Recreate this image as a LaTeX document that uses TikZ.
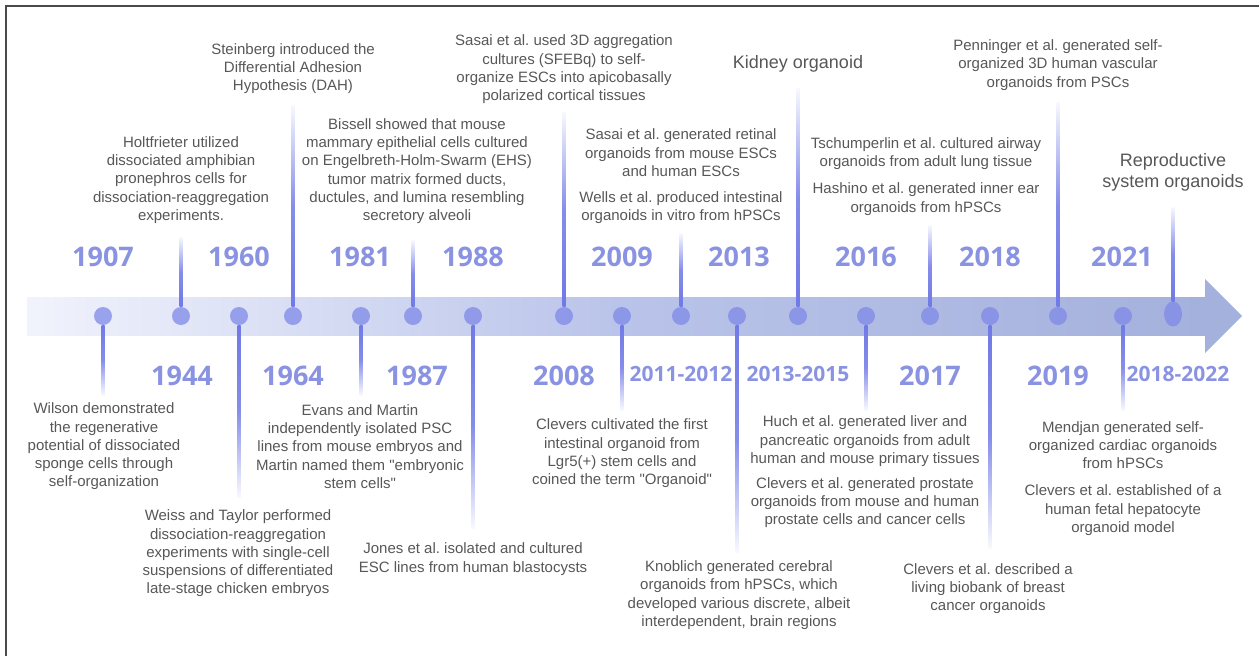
\documentclass[tikz,border=0pt]{standalone}
\usepackage{fontspec}
\setmainfont{Liberation Sans}
\newfontfamily\yearfont{Open Sans}
\usepackage{xcolor}
\usetikzlibrary{shapes.geometric}
\definecolor{txtc}{HTML}{575757}
\definecolor{yearc}{HTML}{8A93E2}
\definecolor{dotc}{HTML}{7F89E8}
\definecolor{stemc}{HTML}{7079E6}
\definecolor{bandl}{HTML}{F1F3FC}
\definecolor{bandm}{HTML}{BAC4EA}
\definecolor{bandr}{HTML}{A4B1DC}
\definecolor{framec}{HTML}{4A4A4A}
\frenchspacing
\begin{document}
\begin{tikzpicture}[x=1pt,y=-1pt,
    evt/.style={align=center,text=txtc,inner sep=0pt,font=\fontsize{15}{18.3}\selectfont},
    big/.style={align=center,text=txtc,inner sep=0pt,font=\fontsize{18}{21}\selectfont},
    yr/.style={text=yearc,inner sep=0pt,font=\yearfont\bfseries\fontsize{27}{30}\selectfont},
    yrs/.style={text=yearc,inner sep=0pt,font=\yearfont\bfseries\fontsize{21}{24}\selectfont},
    pt/.style={circle,fill=dotc,fill opacity=0.75,minimum size=18pt,inner sep=0pt},
    upstem/.style={top color=stemc!5,bottom color=stemc,middle color=stemc!85},
    dnstem/.style={top color=stemc,bottom color=stemc!5,middle color=stemc!85}]
    \useasboundingbox (0,0) rectangle (1259,656);
    \draw[framec,line width=2pt] (6,656) -- (6,6) -- (1259,6);
    %%
    \shade[left color=bandl,right color=bandr,middle color=bandm] (27,297) rectangle (1205,335);
    \fill[bandr] (1205,279) -- (1242,316) -- (1205,353) -- cycle;
    %%
      \node[pt] (d1) at (103,316) {};
      \node[pt] (d2) at (181,316) {};
      \node[pt] (d3) at (239,316) {};
      \node[pt] (d4) at (293,316) {};
      \node[pt] (d5) at (361,316) {};
      \node[pt] (d6) at (413,316) {};
      \node[pt] (d7) at (473,316) {};
      \node[pt] (d8) at (564,316) {};
      \node[pt] (d9) at (622,316) {};
      \node[pt] (d10) at (681,316) {};
      \node[pt] (d11) at (737,316) {};
      \node[pt] (d12) at (798,316) {};
      \node[pt] (d13) at (866,316) {};
      \node[pt] (d14) at (930,316) {};
      \node[pt] (d15) at (990,316) {};
      \node[pt] (d16) at (1058,316) {};
      \node[pt] (d17) at (1123,316) {};
      \node[pt,ellipse,minimum width=18pt,minimum height=25pt] (d18) at (1173,314) {};
    %%
      \coordinate (e1) at (103,395);
      \coordinate (e2) at (181,237);
      \coordinate (e3) at (239,497);
      \coordinate (e4) at (293,105);
      \coordinate (e5) at (361,395);
      \coordinate (e6) at (413,240);
      \coordinate (e7) at (473,528);
      \coordinate (e8) at (564,112);
      \coordinate (e9) at (622,410);
      \coordinate (e10) at (681,233);
      \coordinate (e11) at (737,552);
      \coordinate (e12) at (798,88);
      \coordinate (e13) at (866,410);
      \coordinate (e14) at (930,225);
      \coordinate (e15) at (990,548);
      \coordinate (e16) at (1058,102);
      \coordinate (e17) at (1123,410);
      \coordinate (e18) at (1173,207);
      \shade[dnstem] ([xshift=-1.5pt]d1.south) rectangle ([xshift=1.5pt]e1);
      \shade[upstem] ([xshift=-1.5pt]e2) rectangle ([xshift=1.5pt]d2.north);
      \shade[dnstem] ([xshift=-1.5pt]d3.south) rectangle ([xshift=1.5pt]e3);
      \shade[upstem] ([xshift=-1.5pt]e4) rectangle ([xshift=1.5pt]d4.north);
      \shade[dnstem] ([xshift=-1.5pt]d5.south) rectangle ([xshift=1.5pt]e5);
      \shade[upstem] ([xshift=-1.5pt]e6) rectangle ([xshift=1.5pt]d6.north);
      \shade[dnstem] ([xshift=-1.5pt]d7.south) rectangle ([xshift=1.5pt]e7);
      \shade[upstem] ([xshift=-1.5pt]e8) rectangle ([xshift=1.5pt]d8.north);
      \shade[dnstem] ([xshift=-1.5pt]d9.south) rectangle ([xshift=1.5pt]e9);
      \shade[upstem] ([xshift=-1.5pt]e10) rectangle ([xshift=1.5pt]d10.north);
      \shade[dnstem] ([xshift=-1.5pt]d11.south) rectangle ([xshift=1.5pt]e11);
      \shade[upstem] ([xshift=-1.5pt]e12) rectangle ([xshift=1.5pt]d12.north);
      \shade[dnstem] ([xshift=-1.5pt]d13.south) rectangle ([xshift=1.5pt]e13);
      \shade[upstem] ([xshift=-1.5pt]e14) rectangle ([xshift=1.5pt]d14.north);
      \shade[dnstem] ([xshift=-1.5pt]d15.south) rectangle ([xshift=1.5pt]e15);
      \shade[upstem] ([xshift=-1.5pt]e16) rectangle ([xshift=1.5pt]d16.north);
      \shade[dnstem] ([xshift=-1.5pt]d17.south) rectangle ([xshift=1.5pt]e17);
      \shade[upstem] ([xshift=-1.5pt]e18) rectangle ([xshift=1.5pt]d18.north);
    %%
      \node[yr] (y1) at (103,257) {1907};
      \node[yr] (y2) at (182,376) {1944};
      \node[yr] (y3) at (239,257) {1960};
      \node[yr] (y4) at (293,376) {1964};
      \node[yr] (y5) at (360,257) {1981};
      \node[yr] (y6) at (417,376) {1987};
      \node[yr] (y7) at (473,257) {1988};
      \node[yr] (y8) at (564,376) {2008};
      \node[yr] (y9) at (622,257) {2009};
      \node[yrs] (y10) at (681,374) {2011-2012};
      \node[yr] (y11) at (739,257) {2013};
      \node[yrs] (y12) at (798,374) {2013-2015};
      \node[yr] (y13) at (866,257) {2016};
      \node[yr] (y14) at (930,376) {2017};
      \node[yr] (y15) at (990,257) {2018};
      \node[yr] (y16) at (1058,376) {2019};
      \node[yr] (y17) at (1122,257) {2021};
      \node[yrs] (y18) at (1178,374) {2018-2022};
    %%
      \node[evt] (t1) at (104,446.5) {Wilson demonstrated\\the regenerative\\potential of dissociated\\sponge cells through\\self-organization};
      \node[evt] (t2) at (181,180) {Holtfrieter utilized\\dissociated amphibian\\pronephros cells for\\dissociation-reaggregation\\experiments.};
      \node[evt] (t3) at (238,553.5) {Weiss and Taylor performed\\dissociation-reaggregation\\experiments with single-cell\\suspensions of differentiated\\late-stage chicken embryos};
      \node[evt] (t4) at (293,68.5) {Steinberg introduced the\\Differential Adhesion\\Hypothesis (DAH)};
      \node[evt] (t5) at (360,446.5) {Evans and Martin\\independently isolated PSC\\lines from mouse embryos and\\Martin named them \textquotedbl embryonic\\stem cells\textquotedbl};
      \node[evt] (t6) at (417,171) {Bissell showed that mouse\\mammary epithelial cells cultured\\on Engelbreth-Holm-Swarm (EHS)\\tumor matrix formed ducts,\\ductules, and lumina resembling\\secretory alveoli};
      \node[evt] (t7) at (473,559) {Jones et al. isolated and cultured\\ESC lines from human blastocysts};
      \node[evt] (t8) at (564,69.5) {Sasai et al. used 3D aggregation\\cultures (SFEBq) to self-\\organize ESCs into apicobasally\\polarized cortical tissues};
      \node[evt] (t9) at (622,453.5) {Clevers cultivated the first\\intestinal organoid from\\Lgr5(+) stem cells and\\coined the term \textquotedbl Organoid\textquotedbl};
      \node[evt] (t10) at (681,176.5) {Sasai et al. generated retinal\\organoids from mouse ESCs\\and human ESCs\\[7.7pt]Wells et al. produced intestinal\\organoids in vitro from hPSCs};
      \node[evt] (t11) at (739,595) {Knoblich generated cerebral\\organoids from hPSCs, which\\developed various discrete, albeit\\interdependent, brain regions};
      \node[big] (t12) at (798,64) {Kidney organoid};
      \node[evt] (t13) at (865,472) {Huch et al. generated liver and\\pancreatic organoids from adult\\human and mouse primary tissues\\[6.7pt]Clevers et al. generated prostate\\organoids from mouse and human\\prostate cells and cancer cells};
      \node[evt] (t14) at (926,176.5) {Tschumperlin et al. cultured airway\\organoids from adult lung tissue\\[8.7pt]Hashino et al. generated inner ear\\organoids from hPSCs};
      \node[evt] (t15) at (988,588.5) {Clevers et al. described a\\living biobank of breast\\cancer organoids};
      \node[evt] (t16) at (1058,65) {Penninger et al. generated self-\\organized 3D human vascular\\organoids from PSCs};
      \node[evt] (t17) at (1123,478.5) {Mendjan generated self-\\organized cardiac organoids\\from hPSCs\\[8.7pt]Clevers et al. established of a\\human fetal hepatocyte\\organoid model};
      \node[big] (t18) at (1173,172.5) {Reproductive\\system organoids};
    %
\end{tikzpicture}
\end{document}
